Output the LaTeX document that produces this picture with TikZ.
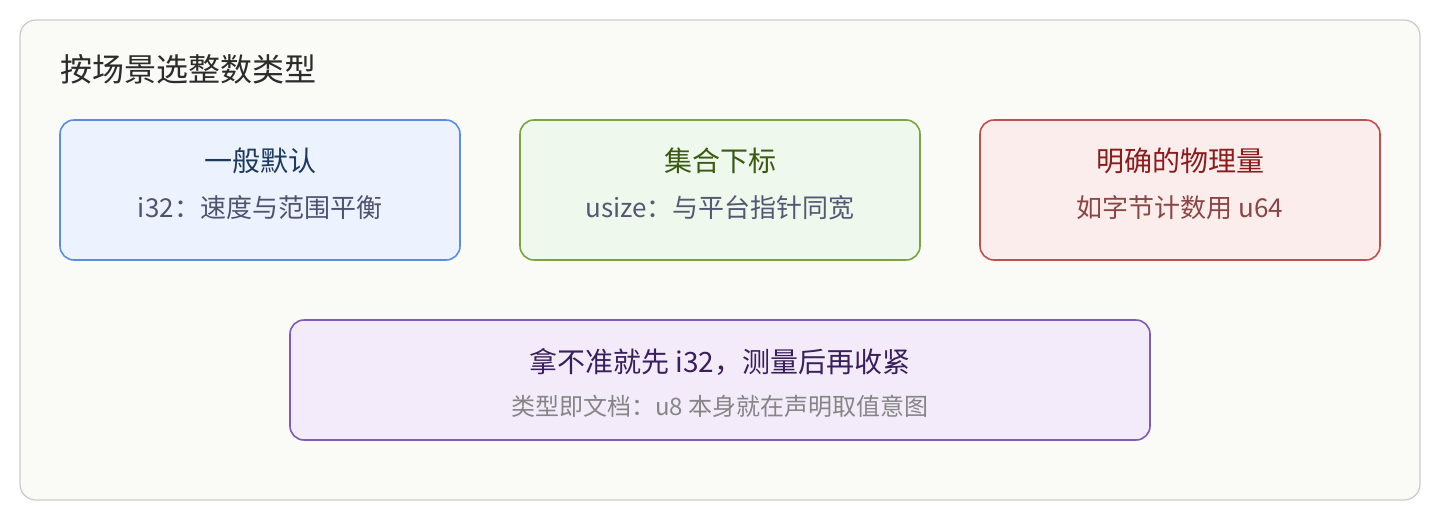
\documentclass[tikz,border=0pt]{standalone}
\usepackage{fontspec}
\setmainfont{Noto Sans CJK SC}
\definecolor{framebg}{HTML}{FAFAF6}
\definecolor{frameln}{HTML}{CCCCCC}
\definecolor{titlec}{HTML}{2B2B2B}
\definecolor{bfill}{HTML}{ECF3FE}
\definecolor{bline}{HTML}{5B8DE0}
\definecolor{btext}{HTML}{1F3A5F}
\definecolor{bsub}{HTML}{4E5470}
\definecolor{gfill}{HTML}{EFF8EC}
\definecolor{gline}{HTML}{7BA440}
\definecolor{gtext}{HTML}{3A5A12}
\definecolor{gsub}{HTML}{555872}
\definecolor{rfill}{HTML}{FCEDED}
\definecolor{rline}{HTML}{C0504D}
\definecolor{rtext}{HTML}{8A1C1C}
\definecolor{rsub}{HTML}{8A4646}
\definecolor{pfill}{HTML}{F3EBFA}
\definecolor{pline}{HTML}{7E5BB8}
\definecolor{ptext}{HTML}{3A1F5C}
\definecolor{psub}{HTML}{858585}
\begin{document}
\begin{tikzpicture}[x=1pt,y=-1pt,
  card/.style={rounded corners=14pt,line width=1.6pt},
  headtxt/.style={font=\fontsize{28}{32}\selectfont,anchor=base,inner sep=0pt},
  subtxt/.style={font=\fontsize{26}{30}\selectfont,anchor=base,inner sep=0pt},
  subsmall/.style={font=\fontsize{24}{28}\selectfont,anchor=base,inner sep=0pt}]
\useasboundingbox (0,0) rectangle (1440,520);
\draw[rounded corners=16pt,line width=1.3pt,draw=frameln,fill=framebg] (20,20) rectangle (1420,500);
\node[font=\fontsize{32}{36}\selectfont,anchor=base west,text=titlec,inner sep=0pt] (title) at (60,81) {按场景选整数类型};
% box 1
\draw[card,draw=bline,fill=bfill] (60,120) rectangle (460,260);
\node[headtxt,text=btext] (b1h) at (260,171.5) {一般默认};
\node[subtxt,text=bsub] (b1s) at (260,217) {i32：速度与范围平衡};
% box 2
\draw[card,draw=gline,fill=gfill] (520,120) rectangle (920,260);
\node[headtxt,text=gtext] (b2h) at (720,171.5) {集合下标};
\node[subtxt,text=gsub] (b2s) at (720,217) {usize：与平台指针同宽};
% box 3
\draw[card,draw=rline,fill=rfill] (980,120) rectangle (1380,260);
\node[headtxt,text=rtext] (b3h) at (1180,171.5) {明确的物理量};
\node[subtxt,text=rsub] (b3s) at (1180,217) {如字节计数用 u64};
% box 4
\draw[card,draw=pline,fill=pfill] (290,320) rectangle (1150,440);
\node[headtxt,text=ptext] (b4h) at (720,372.5) {拿不准就先 i32，测量后再收紧};
\node[subsmall,text=psub] (b4s) at (720,415) {类型即文档：u8 本身就在声明取值意图};
\end{tikzpicture}
\end{document}
